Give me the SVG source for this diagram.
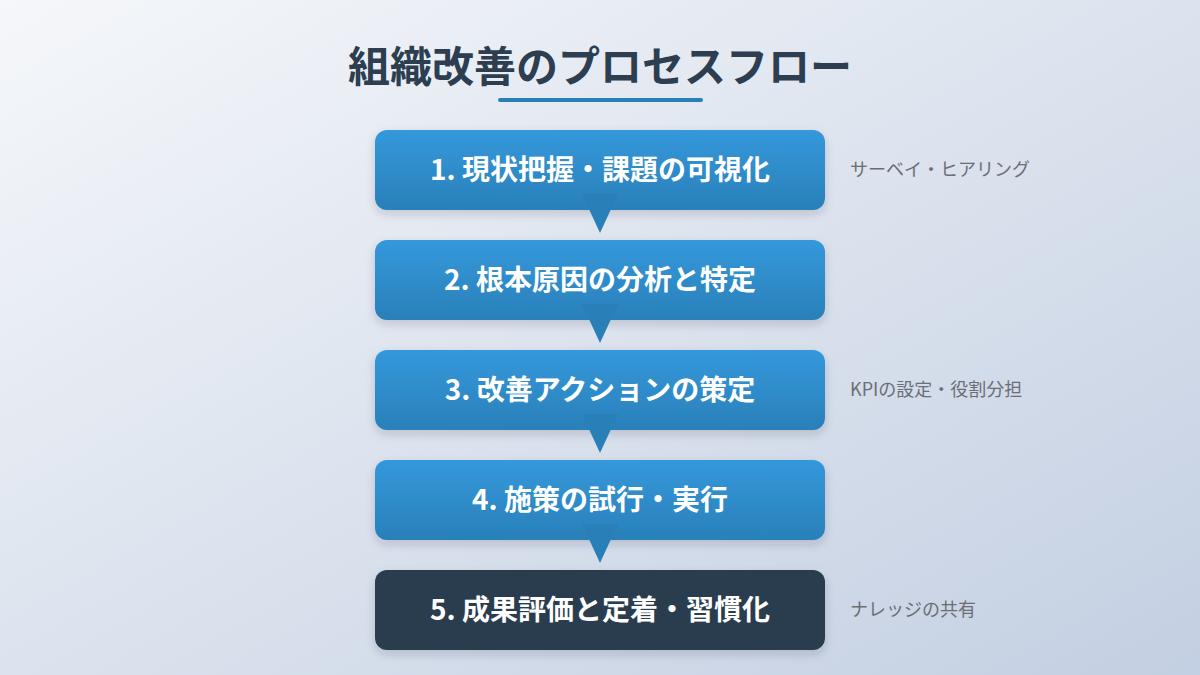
<svg xmlns="http://www.w3.org/2000/svg" width="1200" height="675" viewBox="0 0 1200 675">
<defs>
<linearGradient id="bg" x1="0" y1="0" x2="1" y2="1"><stop offset="0" stop-color="#f5f7fa"/><stop offset="1" stop-color="#c3cfe2"/></linearGradient>
<linearGradient id="blue" x1="0" y1="0" x2="0" y2="1"><stop offset="0" stop-color="#3498db"/><stop offset="1" stop-color="#2a80b9"/></linearGradient>
<filter id="sh" x="-10%" y="-20%" width="120%" height="150%"><feDropShadow dx="0" dy="4" stdDeviation="5" flood-color="#1a2a40" flood-opacity="0.18"/></filter>
<style>
.box{fill:url(#blue);filter:url(#sh)}
.dark{fill:#2c3e50;filter:url(#sh)}
.lbl{font-family:"Noto Sans CJK JP","Noto Sans",sans-serif;font-weight:700;font-size:28px;fill:#fff;text-anchor:middle}
.side{font-family:"Noto Sans CJK JP","Noto Sans",sans-serif;font-size:18px;fill:#6b6f75}
.arr{fill:#2980b9}
</style>
</defs>
<rect width="1200" height="675" fill="url(#bg)"/>
<g id="title">
<text x="600" y="82" text-anchor="middle" font-family="'Noto Sans CJK JP','Noto Sans',sans-serif" font-weight="700" font-size="42" fill="#2c3e50">組織改善のプロセスフロー</text>
<line x1="500" y1="100" x2="701" y2="100" stroke="#2980b9" stroke-width="4" stroke-linecap="round"/>
</g>
<g id="step1"><rect class="box" x="375" y="130" width="450" height="80" rx="12"/><text class="lbl" x="600" y="180">1. 現状把握・課題の可視化</text><text class="side" x="850" y="176">サーベイ・ヒアリング</text></g>
<g id="step2"><rect class="box" x="375" y="240" width="450" height="80" rx="12"/><text class="lbl" x="600" y="290">2. 根本原因の分析と特定</text></g>
<g id="step3"><rect class="box" x="375" y="350" width="450" height="80" rx="12"/><text class="lbl" x="600" y="400">3. 改善アクションの策定</text><text class="side" x="850" y="396">KPIの設定・役割分担</text></g>
<g id="step4"><rect class="box" x="375" y="460" width="450" height="80" rx="12"/><text class="lbl" x="600" y="510">4. 施策の試行・実行</text></g>
<g id="step5"><rect class="dark" x="375" y="570" width="450" height="80" rx="12"/><text class="lbl" x="600" y="620">5. 成果評価と定着・習慣化</text><text class="side" x="850" y="616">ナレッジの共有</text></g>
<g id="connectors">
<polygon class="arr" points="582,194 618,194 600,233"/>
<polygon class="arr" points="582,304 618,304 600,343"/>
<polygon class="arr" points="582,414 618,414 600,453"/>
<polygon class="arr" points="582,524 618,524 600,563"/>
</g>
</svg>
